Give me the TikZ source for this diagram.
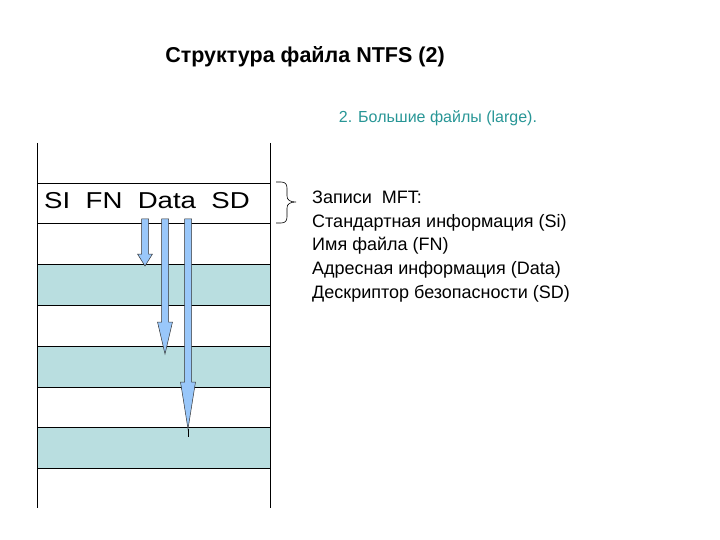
\documentclass[tikz,border=0pt]{standalone}
\usepackage{fontspec}
\setmainfont{Liberation Sans}
\usepackage{xcolor}
\usetikzlibrary{positioning,calc}

\definecolor{rowteal}{RGB}{185,222,224}
\definecolor{arrowblue}{RGB}{153,199,250}
\definecolor{subteal}{RGB}{40,150,150}

\tikzset{
    recline/.style={line width=0.9pt, black},
    fatarrow/.style={draw=black!80, line width=0.5pt, fill=arrowblue},
    infotext/.style={anchor=base west, inner sep=0pt, font=\fontsize{18}{21}\selectfont}
}

% block arrow: x, top, start of head, tip
\newcommand{\blockarrow}[4]{%
    \draw[fatarrow] (#1-3.5,#2) -- (#1+3.5,#2) -- (#1+3.5,#3) -- (#1+7.5,#3)
        -- (#1,#4) -- (#1-7.5,#3) -- (#1-3.5,#3) -- cycle;
}

\begin{document}
\begin{tikzpicture}[x=1pt, y=-1pt]
    \useasboundingbox (0,0) rectangle (720,540);

    % title
    \node[font=\fontsize{21.5}{25}\selectfont\bfseries] (title) at (305,57) {Структура файла NTFS (2)};
    \node[font=\fontsize{16}{19}\selectfont, text=subteal] (subtitle) at (438,118) {2. Большие файлы (large).};

    % shaded records
    \fill[rowteal] (37,264) rectangle (270,305);
    \fill[rowteal] (37,346) rectangle (270,387);
    \fill[rowteal] (37,427) rectangle (270,468);
    \foreach \y in {183,223,264,305,346,387,427,468}
        \draw[recline] (37,\y) -- (270,\y);
    \draw[recline] (37,143) -- (37,508);
    \draw[recline] (270,143) -- (270,508);

    % record with attributes
    \node[font=\fontsize{23}{27}\selectfont, anchor=base, inner sep=0pt] (attrs) at (147,208)
        {\scalebox{1.2}[1]{SI\ \ FN\ \ Data\ \ SD}};

    % pointers to the extents
    \blockarrow{145}{219}{254}{266}
    \blockarrow{165}{219}{322}{354}
    \blockarrow{188}{219}{382}{429}
    \draw[line width=1pt] (188,429) -- (188,437);

    % brace to the legend
    \draw[line width=0.6pt] (276,182) -- (281,182) .. controls (285,182) and (287,184) .. (287,188)
        -- (287,196) .. controls (287,200) and (290,202) .. (296,202)
        .. controls (290,202) and (287,204) .. (287,208) -- (287,217)
        .. controls (287,221) and (285,223) .. (281,223) -- (276,223);

    \node[infotext] (rec) at (312,204) {Записи\ \ MFT:};
    \node[infotext, below=23.5pt of rec.base west, anchor=base west] (si) {Стандартная информация (Si)};
    \node[infotext, below=23.5pt of si.base west, anchor=base west] (fn) {Имя файла (FN)};
    \node[infotext, below=23.5pt of fn.base west, anchor=base west] (data) {Адресная информация (Data)};
    \node[infotext, below=23.5pt of data.base west, anchor=base west] (sd) {Дескриптор безопасности (SD)};
\end{tikzpicture}
\end{document}
